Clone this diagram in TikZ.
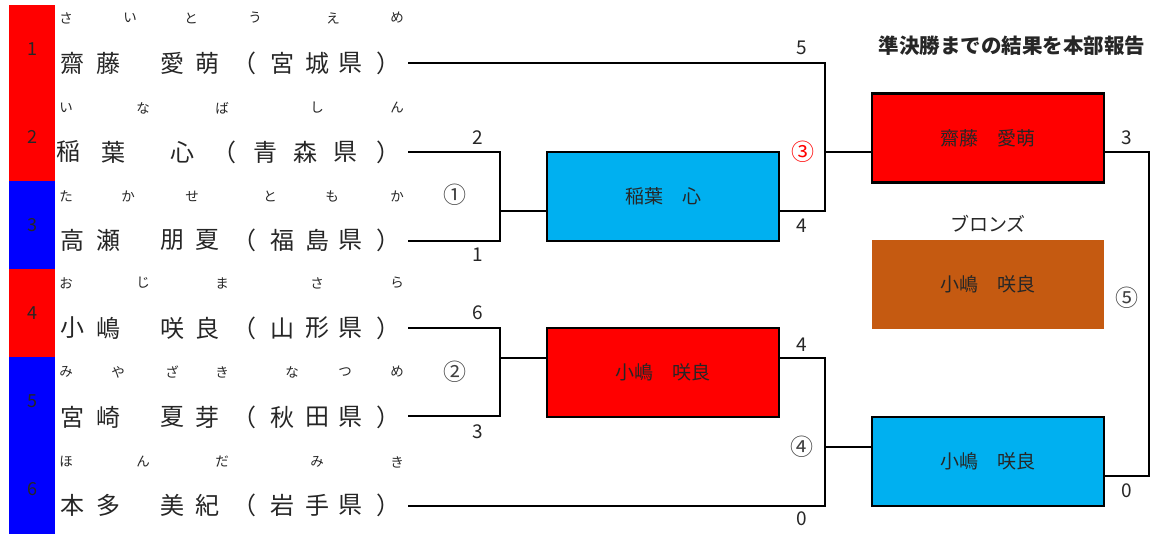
\documentclass[tikz,border=0pt]{standalone}
\usepackage{fontspec}
\setmainfont{Noto Sans CJK JP}
\usepackage{tikz}
\definecolor{cellred}{RGB}{255,0,0}
\definecolor{cellblue}{RGB}{0,0,255}
\definecolor{skyblue}{RGB}{0,176,240}
\definecolor{bronze}{RGB}{197,90,17}
\definecolor{ink}{RGB}{38,38,38}

\begin{document}
\begin{tikzpicture}[x=1pt,y=-1pt,line width=2.6pt]
\tikzstyle{every node}=[inner sep=0pt,text=ink];
\tikzstyle{kana}=[font=\fontsize{13.5}{14}\selectfont];
\tikzstyle{kanji}=[font=\fontsize{24}{26}\selectfont];
\tikzstyle{score}=[font=\fontsize{19}{20}\selectfont];
\tikzstyle{matchno}=[font=\fontsize{23}{24}\selectfont,text=black!75];
\tikzstyle{winner}=[draw,minimum width=232pt,minimum height=89pt,font=\fontsize{19}{20}\selectfont];
\useasboundingbox (0,0) rectangle (1151,534);
% seed strip
    \fill[cellred]  (9,5)   rectangle (55,181);
    \fill[cellblue] (9,181) rectangle (55,269);
    \fill[cellred]  (9,269) rectangle (55,357);
    \fill[cellblue] (9,357) rectangle (55,534);
    \foreach \r/\y in {1/49,2/137,3/225,4/313,5/401,6/489}
        \node[font=\fontsize{18}{20}\selectfont] (s\r) at (32,\y) {\r};
% furigana
    \foreach \x/\c in {66/さ,130/い,191/と,255/う,333/え,397/め}
        \node[kana] (k1-\x) at (\x,18) {\c};
    \foreach \x/\c in {66/い,143/な,222/ば,317/し,397/ん}
        \node[kana] (k2-\x) at (\x,108) {\c};
    \foreach \x/\c in {66/た,128/か,192/せ,270/と,332/も,397/か}
        \node[kana] (k3-\x) at (\x,196) {\c};
    \foreach \x/\c in {66/お,143/じ,222/ま,317/さ,397/ら}
        \node[kana] (k4-\x) at (\x,283) {\c};
    \foreach \x/\c in {66/み,118/や,172/ざ,222/き,292/な,345/つ,397/め}
        \node[kana] (k5-\x) at (\x,372) {\c};
    \foreach \x/\c in {66/ほ,143/ん,222/だ,317/み,397/き}
        \node[kana] (k6-\x) at (\x,462) {\c};
% names
    \foreach \r/\y/\a/\b/\c/\d/\p/\q in {1/63/齋/藤/愛/萌/宮/城,3/240/高/瀬/朋/夏/福/島,
        4/328/小/嶋/咲/良/山/形,5/417/宮/崎/夏/芽/秋/田,6/505/本/多/美/紀/岩/手}
    {
        \node[kanji] (n\r a) at (72,\y) {\a};
        \node[kanji] (n\r b) at (108,\y) {\b};
        \node[kanji] (n\r c) at (172,\y) {\c};
        \node[kanji] (n\r d) at (207,\y) {\d};
        \node[kanji] (n\r o) at (244,\y) {（};
        \node[kanji] (n\r p) at (282,\y) {\p};
        \node[kanji] (n\r q) at (317,\y) {\q};
        \node[kanji] (n\r k) at (350,\y) {県};
        \node[kanji] (n\r e) at (388,\y) {）};
    }
    \foreach \x/\c in {68/稲,113/葉,182/心,224/（,265/青,305/森,345/県,388/）}
        \node[kanji] (n2-\x) at (\x,152) {\c};
% line ends
    \coordinate (e1) at (408,63);
    \coordinate (e2) at (408,152);
    \coordinate (e3) at (408,241);
    \coordinate (e4) at (408,328);
    \coordinate (e5) at (408,416);
    \coordinate (e6) at (408,506);
    \coordinate (m1) at (500,211);
    \coordinate (m2) at (500,358);
    \coordinate (m3) at (825,152);
    \coordinate (m4) at (825,447);
    \coordinate (m5) at (1149,298);
% winners
    \node[winner,fill=skyblue] (A) at (663,196.5) {稲葉　心};
    \node[winner,fill=cellred] (B) at (663,372.5) {小嶋　咲良};
    \node[winner,fill=cellred] (C) at (988,138) {齋藤　愛萌};
    \node[winner,fill=bronze,draw=none] (D) at (988,284.5) {小嶋　咲良};
    \node[winner,fill=skyblue] (E) at (988,461.5) {小嶋　咲良};
    \node[score] (bz) at (988,224) {ブロンズ};
    \node[font=\bfseries\fontsize{20.5}{22}\selectfont] (title) at (1012,46) {準決勝までの結果を本部報告};
% edges
    \draw (e2) -| (m1) |- (e3);
    \draw (m1) -- (m1 -| A.west);
    \draw (e4) -| (m2) |- (e5);
    \draw (m2) -- (m2 -| B.west);
    \draw (e1) -| (m3) |- ([yshift=-14.5pt]A.east);
    \draw (m3) -- (m3 -| C.west);
    \draw (m2 -| B.east) -| (m4) |- (e6);
    \draw (m4) -- (m4 -| E.west);
    \draw (m3 -| C.east) -| (m5) |- ([yshift=-14.5pt]E.east);
% scores
    \node[score] (p1) at (802,48) {5};
    \node[score] (p2) at (478,138) {2};
    \node[score] (p3) at (478,255) {1};
    \node[score] (p4) at (802,226) {4};
    \node[score] (p5) at (478,313) {6};
    \node[score] (p6) at (478,432) {3};
    \node[score] (p7) at (802,345) {4};
    \node[score] (p8) at (802,519) {0};
    \node[score] (p9) at (1127,138) {3};
    \node[score] (p10) at (1127,491) {0};
% match numbers
    \node[matchno] (r1) at (455,195) {①};
    \node[matchno] (r2) at (455,372) {②};
    \node[matchno,text=red] (r3) at (803,152) {③};
    \node[matchno] (r4) at (802,447) {④};
    \node[matchno] (r5) at (1127,298) {⑤};
\end{tikzpicture}
\end{document}
